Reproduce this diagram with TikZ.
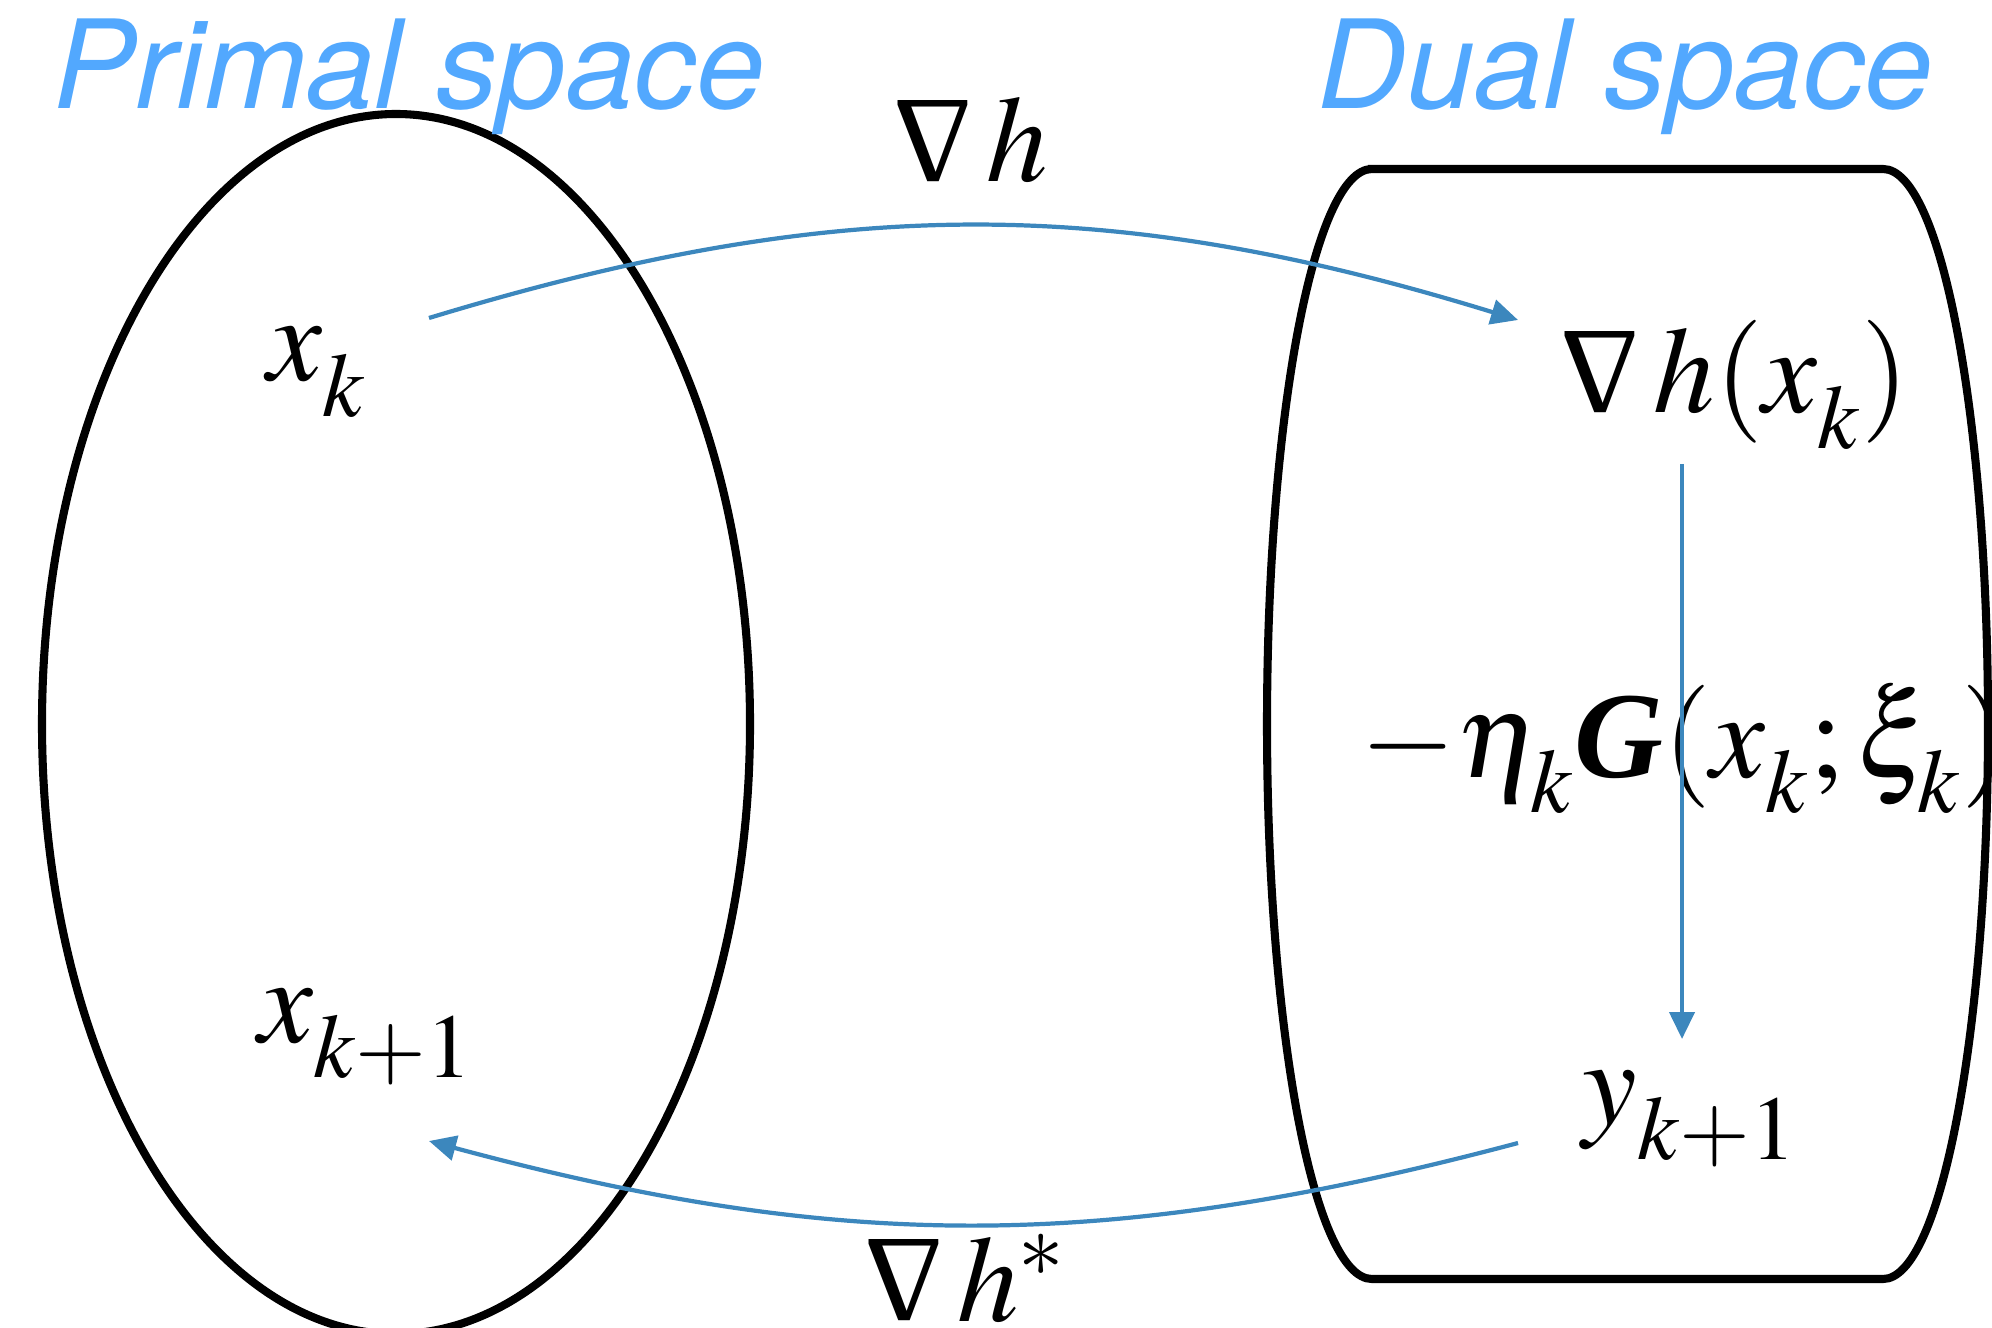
\documentclass[tikz,border=0pt]{standalone}
\usepackage{amsmath}
\usepackage{graphicx}
\usepackage{mathptmx}
\usepackage[no-math]{fontspec}
\setmainfont{Liberation Serif}
\setsansfont{TeX Gyre Heros}
\usetikzlibrary{arrows.meta}
\definecolor{spaceblue}{HTML}{52A8FE}
\definecolor{mapblue}{HTML}{3C87BD}
\newcommand{\gradsym}{\mathord{\rotatebox[origin=c]{180}{\textnormal{Δ}}}\,}
\newcommand{\boldG}{\mathord{\textnormal{\bfseries\itshape G}}}
\newcommand{\subdrop}{\fontdimen16\textfont2=10pt\fontdimen17\textfont2=10pt}
\tikzset{
  spacetitle/.style = {anchor=base west, inner sep=0pt, text=spaceblue,
                       font=\sffamily\itshape\fontsize{35}{42}\selectfont},
  mathlabel/.style  = {anchor=base west, inner sep=0pt,
                       font=\fontsize{35}{42}\selectfont},
  spaceline/.style  = {draw=black, line width=2.3pt},
  mapping/.style    = {-{Triangle[length=0.27cm,width=0.25cm]}, draw=mapblue,
                       line width=1.2pt},
}

\begin{document}
\begin{tikzpicture}[x=1cm,y=1cm]
  \useasboundingbox (0,0) rectangle (19.92,13.27);

  % === Primal space ===
  \draw[spaceline] (3.96,6.03) ellipse [x radius=3.54, y radius=6.10];
  \node[spacetitle] (primal) at (0.53,12.18) {Primal space};

  % === Dual space ===
  \draw[spaceline] (13.72,11.58) -- (18.83,11.58)
    arc[start angle=90, end angle=-90, x radius=1.05, y radius=5.55]
    -- (13.72,0.48)
    arc[start angle=270, end angle=90, x radius=1.05, y radius=5.55] -- cycle;
  \node[spacetitle] (dual) at (13.17,12.18) {Dual space};

  % Iterates
  \node[mathlabel] (xk)    at (2.67,9.46)  {$\subdrop x_k$};
  \node[mathlabel] (xnext) at (2.58,2.85)  {$\subdrop x_{k+1}$};
  \node[mathlabel] (gradx) at (15.60,9.14) {$\subdrop \gradsym h(x_k)$};
  \node[mathlabel] (ynext) at (15.82,2.03) {$\subdrop y_{k+1}$};

  % Map labels
  \node[mathlabel] (gradh)  at (8.93,11.45) {$\gradsym h$};
  \node[mathlabel] (gradhs) at (8.64,0.06)  {$\gradsym h^{*}$};
  \node[mathlabel] (step)   at (13.60,5.50)
    {$\subdrop -\eta_k\boldG(x_k;\xi_k)$};

  % Arrow ends
  \coordinate (fwdA) at (4.29,10.09);
  \coordinate (fwdB) at (15.18,10.07);
  \coordinate (stepA) at (16.82,8.63);
  \coordinate (stepB) at (16.82,2.88);
  \coordinate (bwdA) at (15.18,1.84);
  \coordinate (bwdB) at (4.29,1.86);

  % Mirror maps
  \draw[mapping] (fwdA) to[bend left=17] (fwdB);
  \draw[mapping] (stepA) -- (stepB);
  \draw[mapping] (bwdA) to[bend left=15] (bwdB);

\end{tikzpicture}
\end{document}
